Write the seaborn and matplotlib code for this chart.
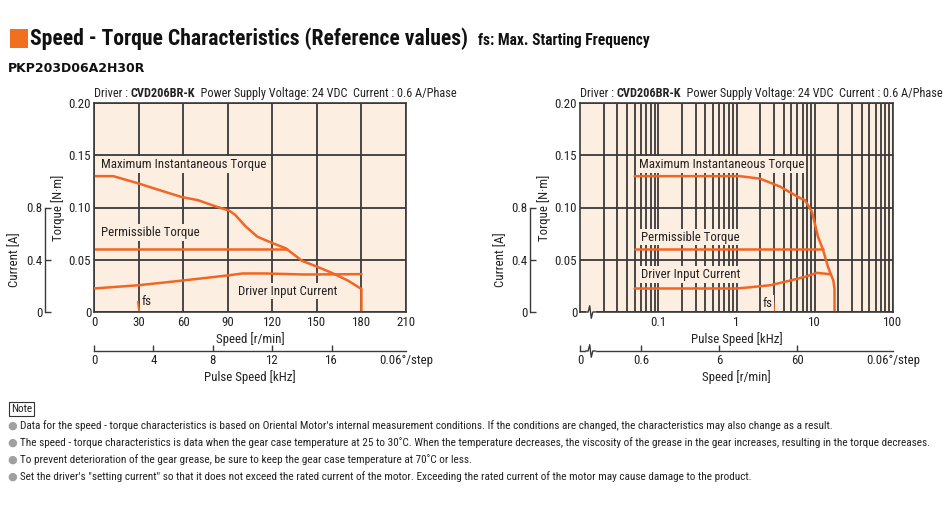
import pandas as pd
import matplotlib
matplotlib.use("Agg")
import matplotlib.pyplot as plt
import matplotlib.patches as patches
from matplotlib import font_manager as fm
import seaborn as sns
from matplotlib.ticker import FixedLocator, NullFormatter

ORANGE = "#f26522"
BG = "#fdeee2"
GRID = "#3a3a3a"
TXT = "#222222"

# === data ===
# left chart: speed [r/min] -> torque [N·m], current [A]
max_speed = [0, 13, 30, 41, 59, 70, 82, 91, 95, 102, 110, 120, 129, 140, 149, 160, 171, 180, 180]
max_torque = [0.130, 0.130, 0.123, 0.118, 0.110, 0.107, 0.101, 0.097, 0.093, 0.082,
              0.072, 0.066, 0.061, 0.049, 0.044, 0.0375, 0.030, 0.022, 0.0]
perm_speed = [0, 130]
perm_torque = [0.060, 0.060]
cur_speed = [0, 30, 59, 90, 100, 115, 142, 180]
cur_amp = [0.18, 0.205, 0.24, 0.28, 0.295, 0.295, 0.287, 0.29]
fs_speed = [29.5, 30.5]
fs_torque = [0.0096, 0.0]

# right chart: pulse speed [kHz] (log) -> torque [N·m], current [A]
max_khz = [0.05, 1.1, 2.0, 3.6, 6.5, 7.5, 9.2, 10, 11, 12.7, 14.8, 17.3, 17.9, 17.9]
max_torque_r = [0.130, 0.130, 0.1276, 0.120, 0.109, 0.107, 0.096, 0.085, 0.072,
                0.060, 0.043, 0.030, 0.022, 0.0]
perm_khz = [0.05, 12.7]
perm_torque_r = [0.060, 0.060]
cur_khz = [0.05, 1.0, 1.36, 2.7, 4.8, 7.8, 10.6, 12.7, 15.5]
cur_amp_r = [0.18, 0.18, 0.187, 0.205, 0.24, 0.272, 0.30, 0.295, 0.29]
fs_khz = [2.95, 3.05]
fs_torque_r = [0.0096, 0.0]

torque_ticks = [0, 0.05, 0.10, 0.15, 0.20]
torque_labels = ["0", "0.05", "0.10", "0.15", "0.20"]
current_ticks = [0, 0.4, 0.8]
current_labels = ["0", "0.4", "0.8"]
speed_ticks = [0, 30, 60, 90, 120, 150, 180, 210]
pulse_ticks_left = [0, 4, 8, 12, 16]
khz_ticks = [0.1, 1, 10, 100]
khz_labels = ["0.1", "1", "10", "100"]
rpm_ticks_right = [0.1, 0.6, 6, 60]
rpm_labels_right = ["0", "0.6", "6", "60"]

notes = [
    "Data for the speed - torque characteristics is based on Oriental Motor's internal measurement conditions. "
    "If the conditions are changed, the characteristics may also change as a result.",
    "The speed - torque characteristics is data when the gear case temperature at 25 to 30\u02daC. When the temperature "
    "decreases, the viscosity of the grease in the gear increases, resulting in the torque decreases.",
    "To prevent deterioration of the gear grease, be sure to keep the gear case temperature at 70\u02daC or less.",
    "Set the driver's \"setting current\" so that it does not exceed the rated current of the motor. "
    "Exceeding the rated current of the motor may cause damage to the product.",
]
header_parts = ["Driver : ", "CVD206BR-K", "  Power Supply Voltage: 24 VDC  Current : 0.6 A/Phase"]


# pick a narrow face if one is installed (the reference uses a condensed font)
def pick_narrow():
    names = {f.name for f in fm.fontManager.ttflist}
    for p in ["Liberation Sans Narrow", "Roboto Condensed", "Noto Sans Condensed",
              "Open Sans Condensed", "DejaVu Sans Condensed", "Arial Narrow"]:
        if p in names:
            return p, "normal"
    for f in fm.fontManager.ttflist:
        if str(f.stretch) in ("condensed", "semi-condensed", "extra-condensed") and \
                f.name in ("Noto Sans", "DejaVu Sans", "Roboto", "Open Sans", "Liberation Sans"):
            return f.name, "condensed"
    return "Liberation Sans", "normal"


family, stretch = pick_narrow()

sns.set_theme(style="white")
plt.rcParams["font.family"] = [family, "DejaVu Sans"]
plt.rcParams["font.stretch"] = stretch
plt.rcParams["text.color"] = TXT

fig = plt.figure(figsize=(9.5, 5.08), dpi=100)
W, H = 950, 508
renderer = fig.canvas.get_renderer()


def text_width(s, size, weight="normal"):
    t = fig.text(0, 0, s, fontsize=size, fontweight=weight)
    w = t.get_window_extent(renderer=renderer).width
    t.remove()
    return w


def fit_size(s, target_px, weight="normal", base=10.0):
    return base * target_px / text_width(s, base, weight)


LBL = min(fit_size("Maximum Instantaneous Torque", 163), 9.5)
HDR = 10.0 * 360 / (text_width(header_parts[0], 10) + text_width(header_parts[1], 10, "bold")
                    + text_width(header_parts[2], 10))
TITLE = fit_size("Speed - Torque Characteristics (Reference values)", 438, "bold")
SUB = fit_size("fs: Max. Starting Frequency", 172, "bold")
NOTE = fit_size(notes[1], 905)


def fx(px):
    return px / W


def fy(py):
    return 1 - py / H


ax_l = fig.add_axes([fx(94), fy(312), fx(406 - 94), (312 - 103) / H])
ax_r = fig.add_axes([fx(580), fy(312), fx(893 - 580), (312 - 103) / H])

SEC_POS = -39 / 209


def style_main(ax):
    ax.set_facecolor(BG)
    for s in ax.spines.values():
        s.set_color(GRID)
        s.set_linewidth(1.2)
    ax.set_ylim(0, 0.20)
    ax.yaxis.set_major_locator(FixedLocator(torque_ticks))
    ax.set_yticklabels(torque_labels)
    ax.tick_params(axis="both", length=0, labelsize=LBL, colors=TXT, pad=2)
    ax.tick_params(axis="x", pad=3)


def add_current_axis(ax, outward):
    tw = ax.twinx()
    tw.set_ylim(0, 1.6)
    tw.patch.set_visible(False)
    for k in ("right", "top", "bottom"):
        tw.spines[k].set_visible(False)
    tw.spines["left"].set_visible(True)
    tw.spines["left"].set_position(("outward", outward))
    tw.spines["left"].set_bounds(0, 0.8)
    tw.spines["left"].set_color(GRID)
    tw.spines["left"].set_linewidth(1.0)
    tw.yaxis.tick_left()
    tw.yaxis.set_label_position("left")
    tw.yaxis.set_major_locator(FixedLocator(current_ticks))
    tw.set_yticklabels(current_labels)
    tw.tick_params(axis="y", direction="in", length=4, width=1.0, color=GRID,
                   labelsize=LBL, colors=TXT, pad=2)
    tw.tick_params(axis="y", which="both", right=False, labelright=False, left=True, labelleft=True)
    return tw


def curve(ax, x, y, lw=1.8):
    df = pd.DataFrame({"x": x, "y": y})
    sns.lineplot(data=df, x="x", y="y", ax=ax, color=ORANGE, linewidth=lw,
                 sort=False, estimator=None, legend=False)
    ax.set_xlabel("")
    ax.set_ylabel("")


def label(ax, x, y, s, ha="left"):
    ax.text(x, y, s, fontsize=LBL, ha=ha, va="center", color=TXT, zorder=3,
            bbox=dict(facecolor=BG, edgecolor="none", pad=1.2))


def header(ax):
    t1 = ax.text(0.0, 1.012, header_parts[0], transform=ax.transAxes, fontsize=HDR,
                 ha="left", va="bottom", color=TXT)
    t2 = ax.annotate(header_parts[1], xy=(1, 0), xycoords=t1, fontsize=HDR, fontweight="bold",
                     ha="left", va="bottom", color=TXT, annotation_clip=False)
    ax.annotate(header_parts[2], xy=(1, 0), xycoords=t2,
                fontsize=HDR, ha="left", va="bottom", color=TXT, annotation_clip=False)


def secondary(ax, functions, ticks, labels, xlabel):
    sec = ax.secondary_xaxis(SEC_POS, functions=functions)
    sec.xaxis.set_major_locator(FixedLocator(ticks))
    sec.xaxis.set_minor_locator(FixedLocator([]))
    sec.set_xticklabels(labels)
    sec.tick_params(axis="x", direction="in", length=4, width=1.0, color=GRID,
                    labelsize=LBL, colors=TXT, pad=2)
    sec.spines["bottom"].set_color(GRID)
    sec.spines["bottom"].set_linewidth(1.0)
    sec.set_xlabel(xlabel, fontsize=LBL, labelpad=2, color=TXT)
    ax.text(1.0, SEC_POS - 0.045, "0.06°/step", transform=ax.transAxes, fontsize=LBL,
            ha="center", va="center", color=TXT)


# ---------- left chart ----------
ax = ax_l
style_main(ax)
ax.set_xlim(0, 210)
ax.xaxis.set_major_locator(FixedLocator(speed_ticks))
ax.grid(True, color=GRID, linewidth=1.3)
ax.set_axisbelow(True)
curve(ax, max_speed, max_torque)
curve(ax, perm_speed, perm_torque)
curve(ax, fs_speed, fs_torque, lw=1.4)
ax.set_ylabel("Torque [N·m]", fontsize=LBL, labelpad=3, color=TXT)
ax.set_xlabel("Speed [r/min]", fontsize=LBL, labelpad=2, color=TXT)
label(ax, 4.5, 0.141, "Maximum Instantaneous Torque")
label(ax, 4.5, 0.076, "Permissible Torque")
label(ax, 97, 0.020, "Driver Input Current")
label(ax, 32.0, 0.0096, "fs")
tw = add_current_axis(ax, 35)
curve(tw, cur_speed, cur_amp)
tw.set_ylabel("Current [A]", fontsize=LBL, color=TXT)
tw.yaxis.set_label_coords(-0.233, 0.25)
header(ax)
secondary(ax, (lambda r: r / 10, lambda f: f * 10), pulse_ticks_left,
          [str(v) for v in pulse_ticks_left], "Pulse Speed [kHz]")

# ---------- right chart ----------
ax = ax_r
style_main(ax)
ax.set_xscale("log")
ax.set_xlim(0.01, 100)
ax.xaxis.set_major_locator(FixedLocator(khz_ticks))
ax.set_xticklabels(khz_labels)
minor = [k * 10.0 ** e for e in range(-2, 2) for k in range(2, 10)]
ax.xaxis.set_minor_locator(FixedLocator(minor))
ax.xaxis.set_minor_formatter(NullFormatter())
ax.tick_params(axis="x", which="minor", length=0)
ax.grid(True, which="both", axis="x", color=GRID, linewidth=1.3)
ax.grid(True, which="major", axis="y", color=GRID, linewidth=1.3)
ax.set_axisbelow(True)
curve(ax, max_khz, max_torque_r)
curve(ax, perm_khz, perm_torque_r)
curve(ax, fs_khz, fs_torque_r, lw=1.4)
ax.set_ylabel("Torque [N·m]", fontsize=LBL, labelpad=3, color=TXT)
ax.set_xlabel("Pulse Speed [kHz]", fontsize=LBL, labelpad=2, color=TXT)
label(ax, 0.057, 0.141, "Maximum Instantaneous Torque")
label(ax, 0.060, 0.0715, "Permissible Torque")
label(ax, 0.060, 0.036, "Driver Input Current")
label(ax, 2.9, 0.0085, "fs", ha="right")
tw = add_current_axis(ax, 36)
curve(tw, cur_khz, cur_amp_r)
tw.set_ylabel("Current [A]", fontsize=LBL, color=TXT)
tw.yaxis.set_label_coords(-0.233, 0.25)
header(ax)
secondary(ax, (lambda f: f * 10, lambda r: r / 10), rpm_ticks_right, rpm_labels_right,
          "Speed [r/min]")

# axis break marks on the log chart
for yb in (0.0, SEC_POS):
    ax.plot([0.022, 0.045], [yb, yb], transform=ax.transAxes, color="white",
            linewidth=2.5, clip_on=False, zorder=5)
    ax.plot([0.018, 0.026, 0.031, 0.036, 0.041, 0.05], [yb, yb, yb + 0.03, yb - 0.03, yb, yb],
            transform=ax.transAxes, color=GRID, linewidth=1.0, clip_on=False, zorder=6)

# ---------- titles ----------
fig.patches.append(patches.Rectangle((fx(10), fy(48)), fx(18), 19 / H, transform=fig.transFigure,
                                     facecolor="#f07020", edgecolor="none"))
fig.text(fx(30), fy(39), "Speed - Torque Characteristics (Reference values)", fontsize=TITLE,
         fontweight="bold", ha="left", va="center", color="#111111")
fig.text(fx(478), fy(41), "fs: Max. Starting Frequency", fontsize=SUB, fontweight="bold",
         ha="left", va="center", color="#111111")
fig.text(fx(8), fy(68), "PKP203D06A2H30R", fontsize=9, fontweight="bold", ha="left", va="center",
         color="#111111", family=["DejaVu Sans"], stretch="normal")

# ---------- notes ----------
fig.text(fx(11), fy(409), "Note", fontsize=NOTE, ha="left", va="center", color=TXT,
         bbox=dict(facecolor="white", edgecolor="#333333", linewidth=0.8, pad=1.5))
for i, n in enumerate(notes):
    yy = fy(426 + i * 17)
    fig.text(fx(7), yy, "\u25cf", fontsize=8, ha="left", va="center", color="#a0a0a0",
             family=["DejaVu Sans"], stretch="normal")
    fig.text(fx(20), yy, n, fontsize=NOTE, ha="left", va="center", color=TXT)

fig.savefig("out.png", dpi=100)
